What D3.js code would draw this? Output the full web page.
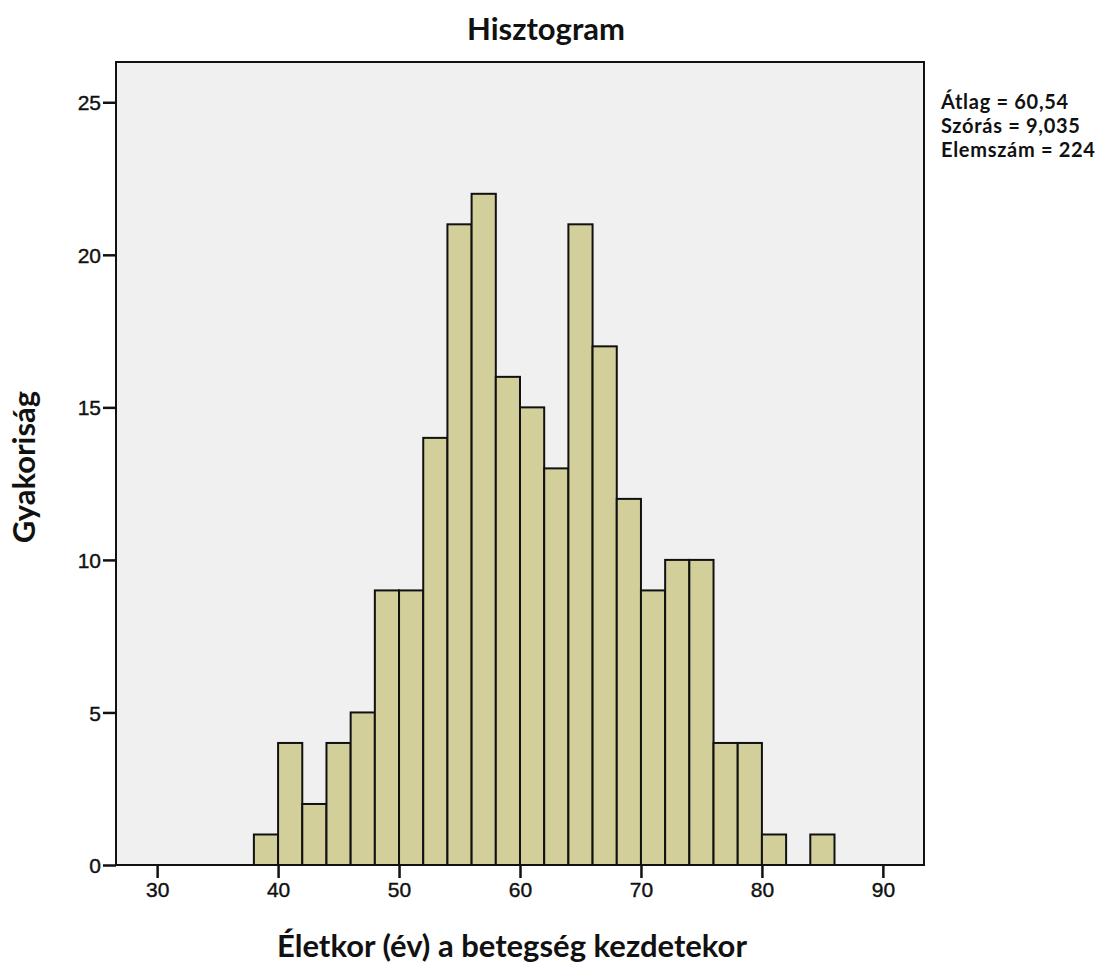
<!DOCTYPE html>
<html>
<head>
<meta charset="utf-8">
<script src="https://cdn.jsdelivr.net/npm/d3@7"></script>
<style>
  body { margin: 0; background: #fff; }
  svg { display: block; }
</style>
</head>
<body>
<div id="chart"></div>
<script>
// Bin edges (lower bound of each 2-year bin) and counts
const binStarts = [38, 40, 42, 44, 46, 48, 50, 52, 54, 56, 58, 60, 62, 64, 66, 68, 70, 72, 74, 76, 78, 80, 82, 84];
const binCounts = [1, 4, 2, 4, 5, 9, 9, 14, 21, 22, 16, 15, 13, 21, 17, 12, 9, 10, 10, 4, 4, 1, 0, 1];
const binWidth = 2;
const xTicks = [30, 40, 50, 60, 70, 80, 90];
const yTicks = [0, 5, 10, 15, 20, 25];
const statLines = ['Átlag = 60,54', 'Szórás = 9,035', 'Elemszám = 224'];

const W = 1101, H = 967;
const plot = { left: 116, top: 62, right: 924, bottom: 865 };

const svg = d3.select('#chart').append('svg')
    .attr('width', W)
    .attr('height', H);

const x = d3.scaleLinear().domain([26.6, 93.4]).range([plot.left, plot.right]);
const y = d3.scaleLinear().domain([0, 26.32]).range([plot.bottom, plot.top]);

// Hintergrund
svg.append('rect')
    .attr('x', plot.left)
    .attr('y', plot.top)
    .attr('width', plot.right - plot.left)
    .attr('height', plot.bottom - plot.top)
    .attr('fill', '#f0f0f0');

const bins = binStarts.map((s, i) => ({ x0: s, x1: s + binWidth, n: binCounts[i] }))
    .filter(d => d.n > 0);

svg.append('g').selectAll('rect')
    .data(bins)
    .join('rect')
    .attr('x', d => x(d.x0))
    .attr('y', d => y(d.n))
    .attr('width', d => x(d.x1) - x(d.x0))
    .attr('height', d => y(0) - y(d.n))
    .attr('fill', '#d3cf9b')
    .attr('stroke', '#111')
    .attr('stroke-width', 2);

// Rahmen
svg.append('rect')
    .attr('x', plot.left)
    .attr('y', plot.top)
    .attr('width', plot.right - plot.left)
    .attr('height', plot.bottom - plot.top)
    .attr('fill', 'none')
    .attr('stroke', '#111')
    .attr('stroke-width', 2);

// Achsen
const xAxis = svg.append('g')
    .attr('transform', `translate(0,${plot.bottom})`)
    .call(d3.axisBottom(x).tickValues(xTicks).tickSize(13).tickPadding(4).tickSizeOuter(0));

const yAxis = svg.append('g')
    .attr('transform', `translate(${plot.left},0)`)
    .call(d3.axisLeft(y).tickValues(yTicks).tickSize(13).tickPadding(2).tickSizeOuter(0));

[xAxis, yAxis].forEach(a => {
    a.select('.domain').remove();
    a.selectAll('line').attr('stroke', '#111').attr('stroke-width', 2.5);
    a.selectAll('text')
        .attr('fill', '#111')
        .attr('stroke', '#111')
        .attr('stroke-width', 0.4)
        .style('font-family', '"Liberation Sans", Arial, sans-serif')
        .style('font-size', '21px');
});
yAxis.selectAll('text').attr('dy', '0.36em');

// Titel
svg.append('text')
    .attr('x', 546)
    .attr('y', 40)
    .attr('text-anchor', 'middle')
    .style('font-family', 'Lato, "Open Sans", sans-serif')
    .style('font-weight', '700')
    .style('font-size', '31px')
    .attr('fill', '#111')
    .text('Hisztogram');

svg.append('text')
    .attr('x', 512)
    .attr('y', 957)
    .attr('text-anchor', 'middle')
    .style('font-family', 'Lato, "Open Sans", sans-serif')
    .style('font-weight', '700')
    .style('font-size', '31px')
    .attr('fill', '#111')
    .text('Életkor (év) a betegség kezdetekor');

svg.append('text')
    .attr('transform', `translate(35,467) rotate(-90)`)
    .attr('text-anchor', 'middle')
    .style('font-family', 'Lato, "Open Sans", sans-serif')
    .style('font-weight', '700')
    .style('font-size', '31px')
    .attr('fill', '#111')
    .text('Gyakoriság');

// Statistik
svg.append('g').selectAll('text')
    .data(statLines)
    .join('text')
    .attr('x', 941)
    .attr('y', (d, i) => 109 + i * 24)
    .style('font-family', 'Lato, "Open Sans", sans-serif')
    .style('font-weight', '700')
    .style('font-size', '20px')
    .style('letter-spacing', '0.7px')
    .attr('fill', '#111')
    .text(d => d);
</script>
</body>
</html>
